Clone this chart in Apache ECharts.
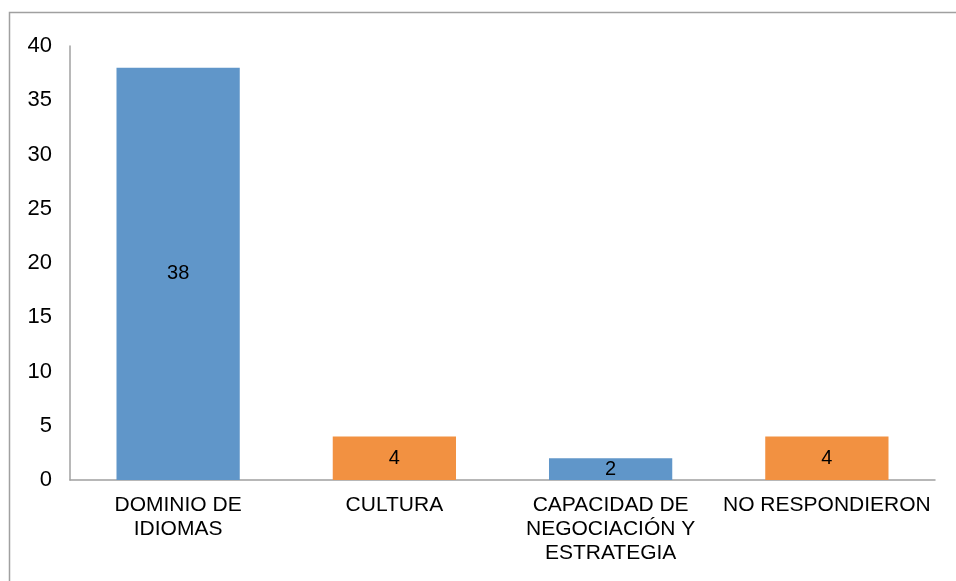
<!DOCTYPE html>
<html><head><meta charset="utf-8">
<script src="https://cdn.jsdelivr.net/npm/echarts@6/dist/echarts.min.js"></script>
<style>html,body{margin:0;padding:0;background:#fff}#c{width:956px;height:581px}</style>
</head><body><div id="c"></div>
<script>
const categories = ['DOMINIO DE\nIDIOMAS', 'CULTURA', 'CAPACIDAD DE\nNEGOCIACIÓN Y\nESTRATEGIA', 'NO RESPONDIERON'];
const values = [38, 4, 2, 4];
const barColors = ['#6096C9', '#F29141', '#6096C9', '#F29141'];
const yTicks = { min: 0, max: 40, interval: 5 };

const chart = echarts.init(document.getElementById('c'));
chart.setOption({
  animation: false,
  textStyle: { fontFamily: 'Liberation Sans, Arial, sans-serif' },
  graphic: [{ type: 'rect', shape: { x: 9.5, y: 12.5, width: 1000, height: 1000 }, style: { fill: 'none', stroke: '#A0A0A0', lineWidth: 1.5 }, silent: true }],
  grid: { left: 70, right: 21, top: 46, bottom: 101 },
  xAxis: {
    type: 'category', data: categories,
    axisLine: { lineStyle: { color: '#A0A0A0', width: 1.5 } },
    axisTick: { show: false },
    axisLabel: { color: '#000', fontSize: 21, lineHeight: 24, margin: 13, interval: 0 }
  },
  yAxis: {
    type: 'value', min: yTicks.min, max: yTicks.max, interval: yTicks.interval,
    axisLine: { show: true, lineStyle: { color: '#A0A0A0', width: 1.5 } },
    axisTick: { show: false },
    splitLine: { show: false },
    axisLabel: { color: '#000', fontSize: 22, margin: 18 }
  },
  series: [{
    type: 'bar', barWidth: '57%',
    data: values.map((v, i) => ({ value: v, itemStyle: { color: barColors[i] } })),
    label: { show: true, position: 'inside', color: '#000', fontSize: 20 }
  }]
});
</script></body></html>
